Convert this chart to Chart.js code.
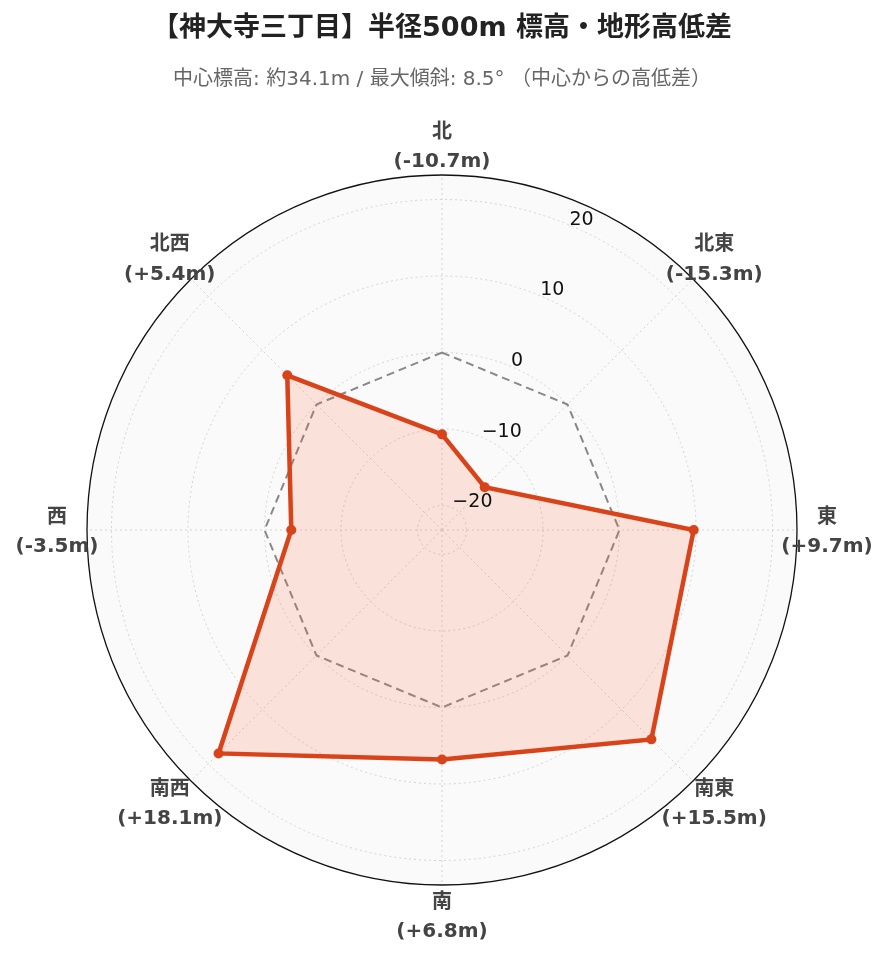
<!DOCTYPE html>
<html>
<head>
<meta charset="utf-8">
<script src="https://cdn.jsdelivr.net/npm/chart.js@4"></script>
<style>
html,body{margin:0;padding:0;background:#fff;}
#wrap{width:889px;height:962px;}
</style>
</head>
<body>
<div id="wrap"><canvas id="chartCanvas" width="889" height="962"></canvas></div>
<script>

const directions = ["北","北東","東","南東","南","南西","西","北西"];
const elevDiff = [-10.7, -15.3, 9.7, 15.5, 6.8, 18.1, -3.5, 5.4];
const zeroLine = [0, 0, 0, 0, 0, 0, 0, 0];
const tickValues = [-20, -10, 0, 10, 20];
const rMin = -23.2;
const rMax = 23.2;

const titleText = "【神大寺三丁目】半径500m 標高・地形高低差";
const subtitleText = "中心標高: 約34.1m / 最大傾斜: 8.5° （中心からの高低差）";

const fontFam = '"DejaVu Sans", "Noto Sans CJK JP", sans-serif';

function fmtDiff(v){
  return "(" + (v > 0 ? "+" : "") + v.toFixed(1) + "m)";
}

function fmtTick(v){
  return v < 0 ? "\u2212" + Math.abs(v) : String(v);
}

// radial tick labels along the 22.5deg axis + two line direction labels
const polarText = {
  id: "polarText",
  afterDatasetsDraw(chart){
    const scale = chart.scales.r;
    const ctx = chart.ctx;
    ctx.save();

    ctx.font = "19px " + fontFam;
    ctx.fillStyle = "#111";
    ctx.textAlign = "left";
    ctx.textBaseline = "alphabetic";
    const ang = -Math.PI/2 + Math.PI/8;
    tickValues.forEach(v => {
      const d = scale.getDistanceFromCenterForValue(v);
      const x = scale.xCenter + Math.cos(ang) * d;
      const y = scale.yCenter + Math.sin(ang) * d;
      ctx.fillText(fmtTick(v), x + 1, y);
    });

    ctx.font = "bold 20px " + fontFam;
    ctx.fillStyle = "#444";
    ctx.textAlign = "center";
    ctx.textBaseline = "middle";
    directions.forEach((d, i) => {
      const p = scale.getPointPosition(i, scale.drawingArea + 30);
      ctx.fillText(d, p.x, p.y - 12.5);
      ctx.fillText(fmtDiff(elevDiff[i]), p.x, p.y + 17);
    });

    ctx.restore();
  }
};

const ctx = document.getElementById("chartCanvas");

new Chart(ctx, {
  type: "radar",
  data: {
    labels: directions,
    datasets: [
      {
        label: "高低差",
        data: elevDiff,
        borderColor: "#d8431a",
        backgroundColor: "rgba(250,100,60,0.17)",
        borderWidth: 4.5,
        pointRadius: 5,
        pointBackgroundColor: "#d8431a",
        pointBorderColor: "#d8431a",
        pointBorderWidth: 0,
        fill: "start",
        tension: 0
      },
      {
        label: "基準",
        data: zeroLine,
        borderColor: "#888",
        borderWidth: 2,
        borderDash: [8, 5],
        pointRadius: 0,
        fill: false
      }
    ]
  },
  options: {
    responsive: false,
    animation: false,
    layout: {
      padding: {left: 87, right: 92, top: 0, bottom: 77}
    },
    plugins: {
      legend: {display: false},
      tooltip: {enabled: false},
      title: {
        display: true,
        text: titleText,
        color: "#222",
        font: {family: fontFam, size: 27, weight: "bold"},
        padding: {top: 12.8, bottom: 0}
      },
      subtitle: {
        display: true,
        text: subtitleText,
        color: "#666",
        font: {family: fontFam, size: 20},
        padding: {top: 22.8, bottom: 83}
      }
    },
    scales: {
      r: {
        min: rMin,
        max: rMax,
        backgroundColor: "#fafafa",
        ticks: {display: false, stepSize: 10},
        pointLabels: {display: false},
        angleLines: {
          color: "#d4d4d4",
          lineWidth: 1,
          borderDash: [2, 3]
        },
        grid: {
          circular: true,
          color: c => (c.tick && c.tick.value >= rMax) ? "#111" : "#d4d4d4",
          lineWidth: c => (c.tick && c.tick.value >= rMax) ? 1.3 : 1
        },
        border: {
          dash: c => (c.tick && c.tick.value >= rMax) ? [] : [2, 3]
        }
      }
    }
  },
  plugins: [polarText]
});

</script>
</body>
</html>
